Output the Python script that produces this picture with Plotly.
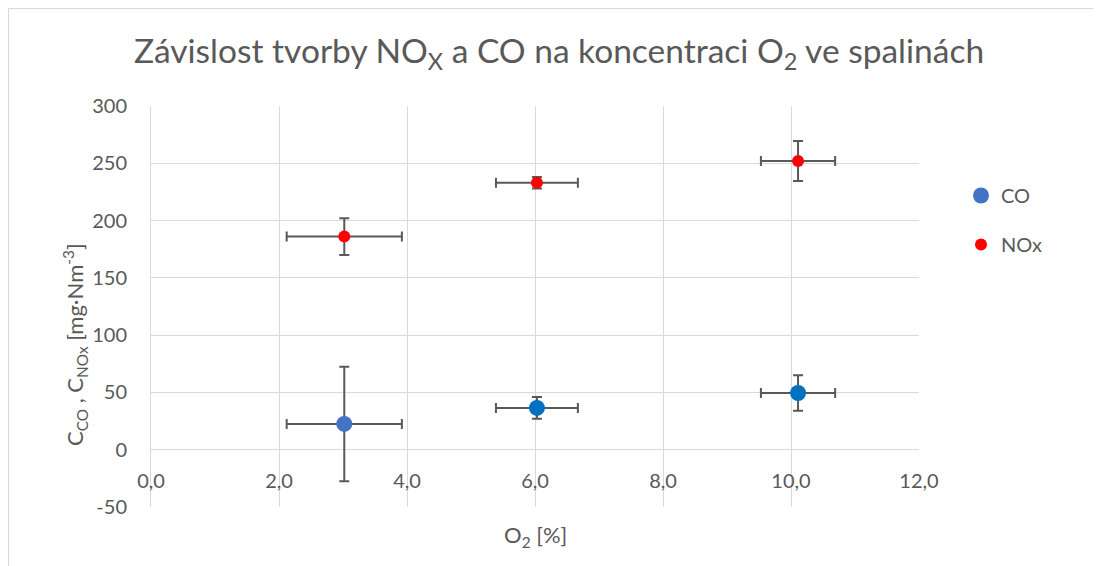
import plotly.graph_objects as go

# Data
series_names = ["CO", "NOx"]
o2_x = [3.02, 6.03, 10.11]
o2_err = [0.90, 0.64, 0.58]
co_y = [22.5, 36.5, 49.5]
co_err = [50, 9.5, 15.5]
nox_y = [186, 233, 252]
nox_err = [16, 5, 17.5]
co_colors = ["#4472C4", "#0070C0", "#0070C0"]
nox_color = "#FF0000"
x_ticks = [0, 2, 4, 6, 8, 10, 12]
x_tick_labels = ["0,0", "2,0", "4,0", "6,0", "8,0", "10,0", "12,0"]
y_ticks = [-50, 0, 50, 100, 150, 200, 250, 300]
y_tick_labels = ["-50", "0", "50", "100", "150", "200", "250", "300"]

# page offset of the figure (body margin)
OFF = 8
W, H = 1101, 566
L = 151 - OFF
T = 106 - OFF
pw = 919 - 151
ph = 507 - 106
R = W - L - pw
B = H - T - ph
FONT = "Lato, Calibri, Carlito, sans-serif"
GREY = "#595959"
GRID = "#D9D9D9"


def px_x(page_x):
    return (page_x - OFF - L) / pw


def px_y(page_y):
    return (T + ph - (page_y - OFF)) / ph


err_style = dict(type="data", thickness=2, color=GREY, width=5, visible=True)

fig = go.Figure()
fig.add_trace(go.Scatter(
    x=o2_x, y=co_y, mode="markers", name=series_names[0],
    marker=dict(size=16, color=co_colors, line=dict(width=0)),
    error_y=dict(array=co_err, **err_style),
    error_x=dict(array=o2_err, **err_style),
    legendgroup="a",
))
fig.add_trace(go.Scatter(
    x=o2_x, y=nox_y, mode="markers", name=series_names[1],
    marker=dict(size=12, color=nox_color, line=dict(width=0)),
    error_y=dict(array=nox_err, **err_style),
    error_x=dict(array=o2_err, **err_style),
    legendgroup="b",
))

fig.update_layout(
    width=W, height=H,
    margin=dict(l=L, r=R, t=T, b=B, pad=0, autoexpand=False),
    paper_bgcolor="white", plot_bgcolor="white",
    separators=", ",
    font=dict(family=FONT, color=GREY, size=20),
    title=dict(
        text="Závislost tvorby NO<sub>X</sub> a CO na koncentraci O<sub>2</sub> ve spalinách",
        x=(559 - OFF) / W, xref="container", xanchor="center",
        y=1 - (51 - OFF) / H, yref="container", yanchor="middle",
        font=dict(family=FONT, size=33.5, color=GREY),
    ),
    xaxis=dict(
        range=[0, 12], tickvals=x_ticks, ticktext=x_tick_labels,
        showgrid=True, gridcolor=GRID, gridwidth=1,
        zeroline=False, showline=False,
        anchor="free", position=50 / 350,
        ticks="", ticklabelstandoff=17,
        tickfont=dict(size=20, color=GREY),
    ),
    yaxis=dict(
        range=[-50, 300], tickvals=y_ticks, ticktext=y_tick_labels,
        showgrid=True, gridcolor=GRID, gridwidth=1,
        zeroline=True, zerolinecolor=GRID, zerolinewidth=1,
        showline=True, linecolor=GRID, linewidth=1,
        ticks="", ticklabelstandoff=19,
        tickfont=dict(size=20, color=GREY),
    ),
    legend=dict(
        x=px_x(961), xanchor="left", y=px_y(176), yanchor="top",
        xref="paper", yref="paper",
        font=dict(size=20, color=GREY), tracegroupgap=20,
        itemwidth=30, bgcolor="rgba(0,0,0,0)",
    ),
    showlegend=True,
)

# y-axis title
fig.add_annotation(
    text="C<sub>CO</sub> , C<sub>NOx</sub> [mg·Nm<sup>-3</sup>]",
    xref="paper", yref="paper",
    x=px_x(75), y=px_y(345),
    textangle=-90, showarrow=False,
    font=dict(family=FONT, size=22, color=GREY),
    xanchor="center", yanchor="middle",
)

# x-axis title
fig.add_annotation(
    text="O<sub>2</sub> [%]",
    xref="paper", yref="paper",
    x=px_x(535), y=px_y(536),
    showarrow=False,
    font=dict(family=FONT, size=22, color=GREY),
    xanchor="center", yanchor="middle",
)

# outer chart border
fig.add_shape(
    type="rect", xref="paper", yref="paper",
    x0=px_x(8.5), x1=px_x(1300),
    y0=px_y(800), y1=px_y(8.5),
    line=dict(color=GRID, width=1), fillcolor="rgba(0,0,0,0)", layer="below",
)

fig.write_html("out.html")
